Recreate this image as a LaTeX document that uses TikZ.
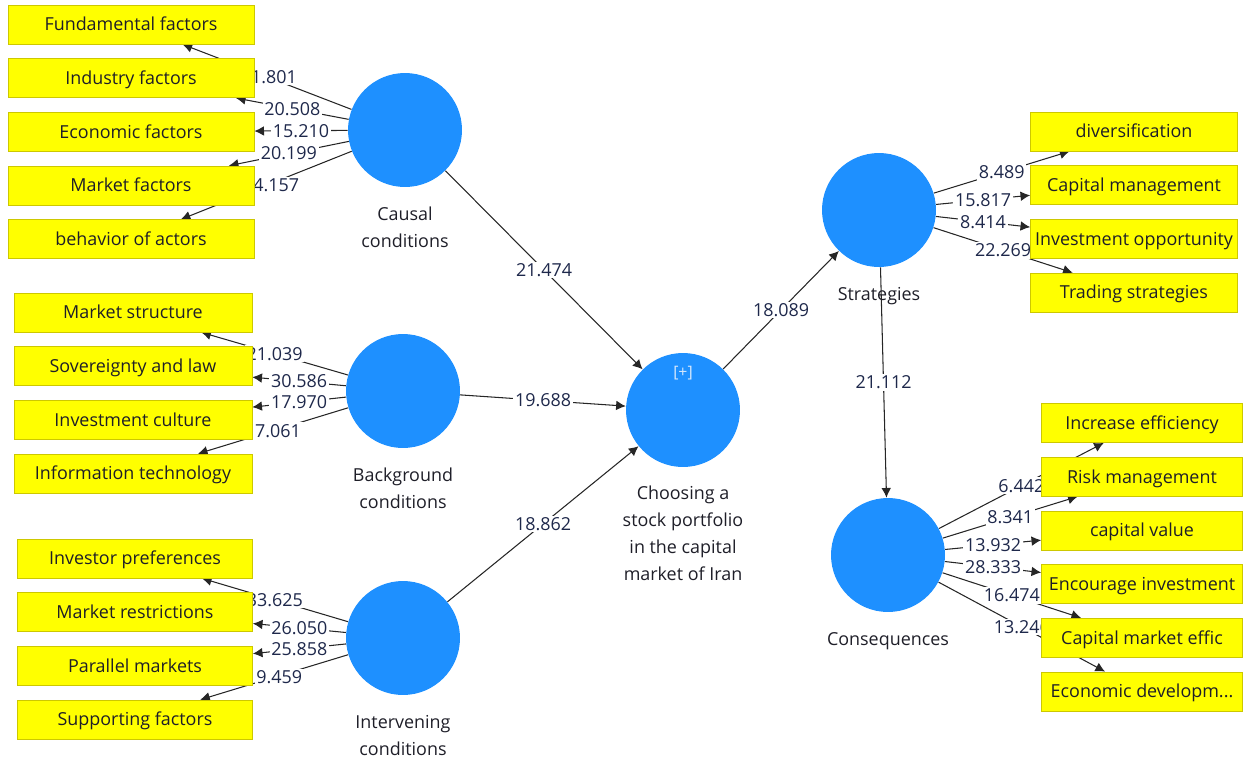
\documentclass[tikz,border=0pt]{standalone}
\usepackage{fontspec}
\setmainfont{Open Sans}
\usetikzlibrary{positioning,backgrounds,arrows.meta}

\definecolor{lvblue}{RGB}{30,144,255}
\definecolor{indyellow}{RGB}{255,255,0}
\definecolor{indborder}{RGB}{205,200,0}
\definecolor{labeltext}{RGB}{30,30,40}
\definecolor{weighttext}{RGB}{30,40,75}
\definecolor{plusgray}{RGB}{215,232,252}

\tikzset{
  latent/.style={circle, fill=lvblue, minimum size=2.28cm, inner sep=0pt},
  ind/.style={rectangle, draw=indborder, fill=indyellow, minimum width=#1, minimum height=0.78cm,
    inner sep=1pt, text height=7.3pt, text depth=0pt, text=labeltext, font=\fontsize{10.2}{12}\selectfont},
  ind/.default=4.9cm,
  lvlabel/.style={align=center, inner sep=0pt, text=labeltext, font=\fontsize{10.2}{12}\selectfont,
    execute at begin node=\setlength{\baselineskip}{15.3pt}},
  link/.style={draw=black!85, line width=0.6pt, -{Latex[length=5.5pt,width=5.5pt]}},
  weight/.style={fill=white, inner sep=1pt, text=weighttext, font=\fontsize{10.2}{12}\selectfont},
}

\newcommand{\loadedge}[4][]{\draw[link] (#2) -- node[weight,#1]{#4} (#3);}

\begin{document}
\begin{tikzpicture}[x=0.02cm, y=-0.02cm, node distance=0.28cm]
\useasboundingbox (0,0) rectangle (1244,761);

%% LATENT VARIABLES
\node[latent] (causal) at (405,130) {};
\node[latent] (background) at (403,391) {};
\node[latent] (intervening) at (403,638) {};
\node[latent] (portfolio) at (683,410) {};
\node[latent] (strategies) at (879,210) {};
\node[latent] (consequences) at (888,555) {};

\node[lvlabel, below=0.39cm of causal] (causal_lbl) {Causal\\conditions};
\node[lvlabel, below=0.39cm of background] (background_lbl) {Background\\conditions};
\node[lvlabel, below=0.39cm of intervening] (intervening_lbl) {Intervening\\conditions};
\node[lvlabel, below=0.37cm of portfolio] (portfolio_lbl) {Choosing a\\stock portfolio\\in the capital\\market of Iran};
\node[lvlabel, below=0.39cm of strategies] (strategies_lbl) {Strategies};
\node[lvlabel, below=0.39cm of consequences] (consequences_lbl) {Consequences};
\node[text=plusgray, font=\fontsize{9}{10}\selectfont] (portfolio_plus) at (683,373) {[+]};

%% CAUSAL CONDITIONS
\node[ind=4.92cm] (ind_fund) at (131,24.5) {Fundamental factors};
\node[ind=4.92cm, below=of ind_fund] (ind_industry) {Industry factors};
\node[ind=4.92cm, below=of ind_industry] (ind_economic) {Economic factors};
\node[ind=4.92cm, below=of ind_economic] (ind_market) {Market factors};
\node[ind=4.92cm, below=of ind_market] (ind_actors) {behavior of actors};

%% BACKGROUND CONDITIONS
\node[ind=4.76cm] (ind_structure) at (133,312.5) {Market structure};
\node[ind=4.76cm, below=of ind_structure] (ind_law) {Sovereignty and law};
\node[ind=4.76cm, below=of ind_law] (ind_culture) {Investment culture};
\node[ind=4.76cm, below=of ind_culture] (ind_it) {Information technology};

%% INTERVENING CONDITIONS
\node[ind=4.7cm] (ind_prefs) at (135,558.5) {Investor preferences};
\node[ind=4.7cm, below=of ind_prefs] (ind_restrict) {Market restrictions};
\node[ind=4.7cm, below=of ind_restrict] (ind_parallel) {Parallel markets};
\node[ind=4.7cm, below=of ind_parallel] (ind_support) {Supporting factors};

%% STRATEGIES
\node[ind=4.14cm] (ind_divers) at (1134,131.5) {diversification};
\node[ind=4.14cm, below=of ind_divers] (ind_capman) {Capital management};
\node[ind=4.14cm, below=of ind_capman] (ind_opport) {Investment opportunity};
\node[ind=4.14cm, below=of ind_opport] (ind_trading) {Trading strategies};

%% CONSEQUENCES
\node[ind=4.02cm] (ind_effic) at (1142,423) {Increase efficiency};
\node[ind=4.02cm, below=of ind_effic] (ind_risk) {Risk management};
\node[ind=4.02cm, below=of ind_risk] (ind_capval) {capital value};
\node[ind=4.02cm, below=of ind_capval] (ind_encour) {Encourage investment};
\node[ind=4.02cm, below=of ind_encour] (ind_cmeff) {Capital market effic};
\node[ind=4.02cm, below=of ind_cmeff] (ind_econdev) {Economic developm...};

\begin{scope}[on background layer]
% outer loadings
\loadedge[xshift=0.14cm]{causal}{ind_fund}{1.801}
\loadedge{causal}{ind_industry}{20.508}
\loadedge{causal}{ind_economic}{15.210}
\loadedge{causal}{ind_market}{20.199}
\loadedge[xshift=0.2cm]{causal}{ind_actors}{4.157}

\loadedge{background}{ind_structure}{21.039}
\loadedge{background}{ind_law}{30.586}
\loadedge{background}{ind_culture}{17.970}
\loadedge[xshift=0.1cm]{background}{ind_it}{7.061}

\loadedge{intervening}{ind_prefs}{33.625}
\loadedge{intervening}{ind_restrict}{26.050}
\loadedge{intervening}{ind_parallel}{25.858}
\loadedge[xshift=0.1cm]{intervening}{ind_support}{9.459}

\loadedge{strategies}{ind_divers}{8.489}
\loadedge{strategies}{ind_capman}{15.817}
\loadedge{strategies}{ind_opport}{8.414}
\loadedge{strategies}{ind_trading}{22.269}

\loadedge{consequences}{ind_effic}{6.442}
\loadedge{consequences}{ind_risk}{8.341}
\loadedge{consequences}{ind_capval}{13.932}
\loadedge{consequences}{ind_encour}{28.333}
\loadedge{consequences}{ind_cmeff}{16.474}
\loadedge{consequences}{ind_econdev}{13.246}

% inner model
\loadedge{causal}{portfolio}{21.474}
\loadedge{background}{portfolio}{19.688}
\loadedge{intervening}{portfolio}{18.862}
\loadedge{portfolio}{strategies}{18.089}
\loadedge{strategies}{consequences}{21.112}
\end{scope}

\end{tikzpicture}
\end{document}
